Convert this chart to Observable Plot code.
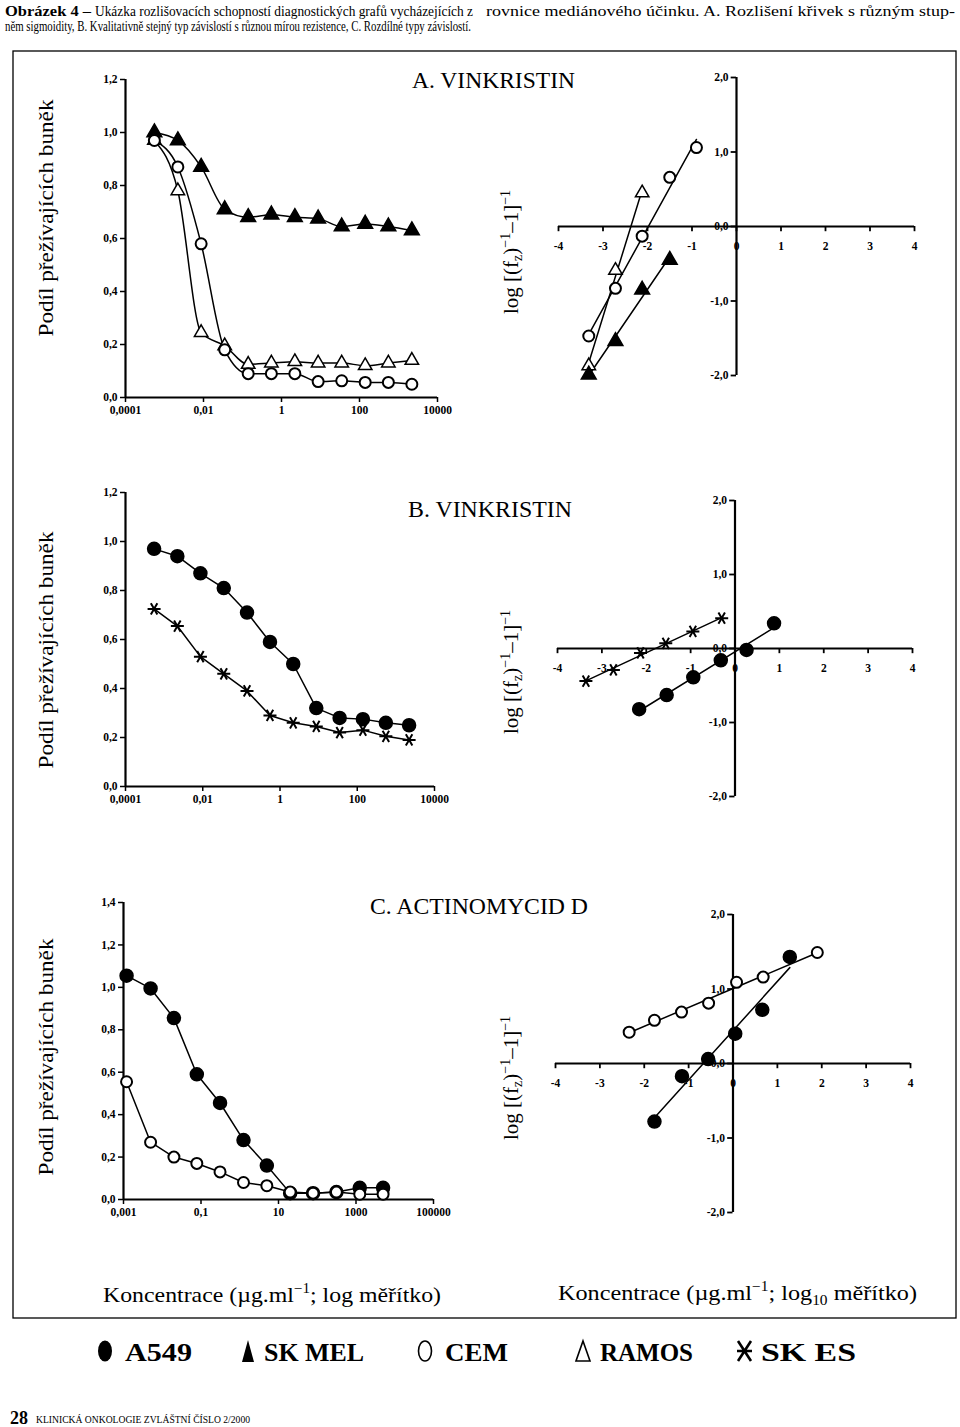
<!DOCTYPE html>
<html><head><meta charset="utf-8">
<script src="https://cdn.jsdelivr.net/npm/d3@7"></script>
<script src="https://cdn.jsdelivr.net/npm/@observablehq/plot@0.6"></script>
<style>
body{margin:0;background:#fff;}
#page{position:relative;width:960px;height:1427px;background:#fff;overflow:hidden;}
#page svg{position:absolute;}
</style></head><body><div id="page"></div>
<script>
// ---------------- DATA ----------------
// Dose-response (fraction of surviving cells) – vinkristin concentrations (µg/ml)
const concVink = [0.00055, 0.0022, 0.0087, 0.035, 0.14, 0.55, 2.2, 8.7, 35, 140, 550, 2200];
const aSkMel = [1.0, 0.97, 0.87, 0.71, 0.68, 0.69, 0.68, 0.675, 0.645, 0.655, 0.645, 0.63];
const aRamos = [0.97, 0.78, 0.245, 0.195, 0.125, 0.13, 0.135, 0.13, 0.13, 0.12, 0.13, 0.14];
const aCem   = [0.97, 0.87, 0.58, 0.18, 0.09, 0.09, 0.09, 0.06, 0.063, 0.057, 0.057, 0.05];
const bA549  = [0.97, 0.94, 0.87, 0.81, 0.71, 0.59, 0.50, 0.32, 0.28, 0.275, 0.26, 0.25];
const bSkEs  = [0.725, 0.655, 0.53, 0.46, 0.39, 0.29, 0.26, 0.245, 0.22, 0.23, 0.205, 0.19];
// actinomycin D concentrations (µg/ml)
const concAct = [0.0012, 0.005, 0.02, 0.078, 0.31, 1.25, 5, 20, 78, 312, 1250, 5000];
const cA549  = [1.055, 0.995, 0.855, 0.59, 0.455, 0.28, 0.16, 0.03, 0.03, 0.035, 0.055, 0.055];
const cCem   = [0.555, 0.27, 0.2, 0.17, 0.13, 0.08, 0.065, 0.035, 0.03, 0.035, 0.025, 0.025];

// Median-effect plots: x = log10 concentration, y = log[(fz)^-1 - 1]^-1
const meA_x      = [-3.32, -2.72, -2.12, -1.5, -0.9];
const meA_cem    = [-1.47, -0.83, -0.13, 0.66, 1.06];
const meA_ramos  = [-1.87, -0.59, 0.45];
const meA_skmel  = [-1.99, -1.54, -0.85, -0.45];
const meB_skes_x = [-3.36, -2.74, -2.13, -1.56, -0.95, -0.30];
const meB_skes   = [-0.44, -0.29, -0.06, 0.07, 0.23, 0.41];
const meB_a549_x = [-2.16, -1.54, -0.94, -0.32, 0.26, 0.88];
const meB_a549   = [-0.82, -0.63, -0.39, -0.16, -0.02, 0.34];
const meC_cem_x  = [-2.34, -1.77, -1.16, -0.55, 0.08, 0.68, 1.90];
const meC_cem    = [0.42, 0.58, 0.69, 0.81, 1.09, 1.16, 1.49];
const meC_a549_x = [-1.77, -1.15, -0.56, 0.05, 0.66, 1.28];
const meC_a549   = [-0.78, -0.17, 0.06, 0.40, 0.72, 1.43];

// Ticks and tick labels
const vinkTicksX = [1e-4, 1e-2, 1, 1e2, 1e4];
const vinkLabelsX = ["0,0001", "0,01", "1", "100", "10000"];
const actTicksX = [1e-3, 1e-1, 10, 1e3, 1e5];
const actLabelsX = ["0,001", "0,1", "10", "1000", "100000"];
const ticksY12 = [0, 0.2, 0.4, 0.6, 0.8, 1.0, 1.2];
const labelsY12 = ["0,0", "0,2", "0,4", "0,6", "0,8", "1,0", "1,2"];
const ticksY14 = [0, 0.2, 0.4, 0.6, 0.8, 1.0, 1.2, 1.4];
const labelsY14 = ["0,0", "0,2", "0,4", "0,6", "0,8", "1,0", "1,2", "1,4"];
const meTicksX = [-4, -3, -2, -1, 0, 1, 2, 3, 4];
const meLabelsX = ["-4", "-3", "-2", "-1", "0", "1", "2", "3", "4"];
const meTicksY = [-2, -1, 0, 1, 2];
const meLabelsY = ["-2,0", "-1,0", "0,0", "1,0", "2,0"];

const legendNames = ["A549", "SK MEL", "CEM", "RAMOS", "SK ES"];

// ---------------- STYLES ----------------
const asterisk = {
  draw(ctx, size) {
    const r = Math.sqrt(size / Math.PI);
    for (const a of [0, Math.PI / 3, 2 * Math.PI / 3]) {
      const c = Math.cos(a) * r, s = Math.sin(a) * r;
      ctx.moveTo(c, s); ctx.lineTo(-c, -s);
    }
  }
};
const STY = {
  A549:  {symbol: "circle", fill: "black", stroke: "black", r: 6.5},
  SKMEL: {symbol: "triangle", fill: "black", stroke: "black", r: 5.5},
  CEM:   {symbol: "circle", fill: "white", stroke: "black", strokeWidth: 2, r: 5.5},
  RAMOS: {symbol: "triangle", fill: "white", stroke: "black", strokeWidth: 1.5, r: 5},
  SKES:  {symbol: asterisk, fill: "none", stroke: "black", strokeWidth: 2, r: 6.5}
};
const zip = (xs, ys) => xs.map((x, i) => ({x, y: ys[i]}));
const page = document.getElementById("page");
const plotStyle = {fontFamily: "'Liberation Serif', 'Times New Roman', serif", fontSize: "12px", fontWeight: "bold", background: "transparent", overflow: "visible"};
const TICKFONT = 11.5;

function place(svg, left, top) {
  svg.style.left = left + "px"; svg.style.top = top + "px";
  page.appendChild(svg);
}

function doseChart(o) {
  const marks = [
    Plot.axisX(o.xTicks, {tickFormat: d => o.xLabels[o.xTicks.indexOf(d)], tickSize: 5, tickPadding: 3, strokeWidth: 1.5, fontSize: TICKFONT, fontWeight: "bold", label: null}),
    Plot.axisY(o.yTicks, {tickFormat: d => o.yLabels[o.yTicks.indexOf(d)], tickSize: 5, tickPadding: 3, strokeWidth: 1.5, fontSize: TICKFONT, fontWeight: "bold", label: null}),
    Plot.ruleY([0], {strokeWidth: 2.2}),
    Plot.ruleX([o.xDomain[0]], {strokeWidth: 2.2})
  ];
  for (const s of o.series) marks.push(Plot.line(zip(o.conc, s.values), {x: "x", y: "y", stroke: "black", strokeWidth: 1.5, curve: o.curve}));
  for (const s of o.series) marks.push(Plot.dot(zip(o.conc, s.values), {x: "x", y: "y", ...s.style}));
  const svg = Plot.plot({
    width: o.width, height: o.height,
    marginLeft: o.mL, marginRight: o.mR, marginTop: o.mT, marginBottom: o.mB,
    style: plotStyle,
    x: {type: "log", domain: o.xDomain},
    y: {domain: o.yDomain},
    marks
  });
  place(svg, o.left, o.top);
}

function medianChart(o) {
  const marks = [
    Plot.ruleY([0], {x1: -4, x2: 4, strokeWidth: 2.2}),
    Plot.ruleX([0], {y1: -2, y2: 2, strokeWidth: 2.2}),
    Plot.ruleX(meTicksX, {x: d => d, y1: 0, y2: -0.07, strokeWidth: 1.8}),
    Plot.ruleY(meTicksY, {y: d => d, x1: 0, x2: -0.12, strokeWidth: 1.8}),
    Plot.text(meTicksX, {x: d => d, y: 0, dy: 20, fontSize: TICKFONT, fontWeight: "bold", text: d => meLabelsX[meTicksX.indexOf(d)]}),
    Plot.text(meTicksY, {x: 0, y: d => d, dx: -8, textAnchor: "end", fontSize: TICKFONT, fontWeight: "bold", text: d => meLabelsY[meTicksY.indexOf(d)]})
  ];
  for (const s of o.series) marks.push(Plot.linearRegressionY(zip(s.x, s.y), {x: "x", y: "y", ci: 0, stroke: "black", strokeWidth: 1.5}));
  for (const s of o.series) marks.push(Plot.dot(zip(s.x, s.y), {x: "x", y: "y", ...s.style}));
  const svg = Plot.plot({
    width: 420, height: o.height,
    marginLeft: o.mL, marginRight: o.mR, marginTop: 25, marginBottom: 30,
    style: plotStyle,
    x: {domain: [-4, 4], axis: null},
    y: {domain: [-2, 2], axis: null},
    marks
  });
  place(svg, 530, o.top);
}

// ---------------- CHARTS ----------------
doseChart({left: 0, top: 54, width: 460, height: 373, mL: 125, mR: 23, mT: 25, mB: 30,
  conc: concVink, xDomain: [1e-4, 1e4], xTicks: vinkTicksX, xLabels: vinkLabelsX,
  yDomain: [0, 1.2], yTicks: ticksY12, yLabels: labelsY12, curve: "monotone-x",
  series: [{values: aSkMel, style: STY.SKMEL}, {values: aRamos, style: STY.RAMOS}, {values: aCem, style: STY.CEM}]});
doseChart({left: 0, top: 467, width: 460, height: 349, mL: 125, mR: 26, mT: 25, mB: 30,
  conc: concVink, xDomain: [1e-4, 1e4], xTicks: vinkTicksX, xLabels: vinkLabelsX,
  yDomain: [0, 1.2], yTicks: ticksY12, yLabels: labelsY12, curve: "linear",
  series: [{values: bA549, style: STY.A549}, {values: bSkEs, style: STY.SKES}]});
doseChart({left: 0, top: 877, width: 460, height: 352, mL: 123, mR: 27, mT: 25, mB: 30,
  conc: concAct, xDomain: [1e-3, 1e5], xTicks: actTicksX, xLabels: actLabelsX,
  yDomain: [0, 1.4], yTicks: ticksY14, yLabels: labelsY14, curve: "linear",
  series: [{values: cA549, style: STY.A549}, {values: cCem, style: STY.CEM}]});

medianChart({top: 52, height: 353, mL: 28, mR: 36, series: [
  {x: meA_x, y: meA_cem, style: STY.CEM},
  {x: meA_x.slice(0, meA_ramos.length), y: meA_ramos, style: STY.RAMOS},
  {x: meA_x.slice(0, meA_skmel.length), y: meA_skmel, style: STY.SKMEL}]});
medianChart({top: 475, height: 351, mL: 27, mR: 38, series: [
  {x: meB_skes_x, y: meB_skes, style: STY.SKES},
  {x: meB_a549_x, y: meB_a549, style: STY.A549}]});
medianChart({top: 889, height: 353, mL: 25, mR: 40, series: [
  {x: meC_cem_x, y: meC_cem, style: STY.CEM},
  {x: meC_a549_x, y: meC_a549, style: STY.A549}]});

// ---------------- TEXT OVERLAY ----------------
const SERIF = "'Liberation Serif', 'Times New Roman', serif";
const ov = d3.select(page).append("svg").attr("width", 960).attr("height", 1427)
  .style("left", "0px").style("top", "0px").style("pointer-events", "none")
  .attr("font-family", SERIF).attr("fill", "black");

function txt(x, y, s, {size = 14, weight = "normal", len = null, anchor = "start", adj = "spacingAndGlyphs", rotate = null} = {}) {
  const t = ov.append("text").attr("x", x).attr("y", y).attr("font-size", size)
    .attr("font-weight", weight).attr("text-anchor", anchor).text(s);
  if (len) t.attr("textLength", len).attr("lengthAdjust", adj);
  if (rotate !== null) t.attr("transform", `rotate(${rotate},${x},${y})`);
  return t;
}

// border
ov.append("rect").attr("x", 13).attr("y", 51).attr("width", 943).attr("height", 1267)
  .attr("fill", "none").attr("stroke", "black").attr("stroke-width", 1.3);

// header caption
txt(5, 16, "Obrázek 4 –", {size: 15, weight: "bold", len: 86});
txt(95, 16, "Ukázka rozlišovacích schopností diagnostických grafů vycházejících z", {size: 15, len: 378});
txt(486, 16, "rovnice mediánového účinku. A. Rozlišení křivek s  různým stup-", {size: 14.5, len: 469});
txt(5, 31, "něm sigmoidity, B. Kvalitativně stejný typ závislostí s  různou mírou rezistence, C. Rozdílné typy závislostí.", {size: 14, len: 466});

// panel titles
txt(412, 88, "A. VINKRISTIN", {size: 24, len: 163});
txt(408, 517, "B. VINKRISTIN", {size: 24, len: 164});
txt(370, 914, "C. ACTINOMYCID D", {size: 24, len: 218});

// left y-axis labels
for (const cy of [218, 650, 1057]) {
  ov.append("text").attr("transform", `translate(53,${cy}) rotate(-90)`)
    .attr("text-anchor", "middle").attr("font-size", 21)
    .attr("textLength", 237).attr("lengthAdjust", "spacingAndGlyphs")
    .text("Podíl přežívajících buněk");
}
// right y-axis labels
for (const cy of [252, 672, 1078]) {
  const t = ov.append("text").attr("transform", `translate(518,${cy}) rotate(-90)`)
    .attr("text-anchor", "middle").attr("font-size", 21);
  t.append("tspan").text("log [(f");
  t.append("tspan").attr("font-size", 14).attr("baseline-shift", "-4").text("z");
  t.append("tspan").text(")");
  t.append("tspan").attr("font-size", 14).attr("baseline-shift", "8").text("−1");
  t.append("tspan").text("–1]");
  t.append("tspan").attr("font-size", 14).attr("baseline-shift", "8").text("−1");
}
// bottom x-axis labels
{
  const t = ov.append("text").attr("x", 103).attr("y", 1302).attr("font-size", 22)
    .attr("textLength", 338).attr("lengthAdjust", "spacingAndGlyphs");
  t.append("tspan").text("Koncentrace (µg.ml");
  t.append("tspan").attr("font-size", 14).attr("baseline-shift", "9").text("−1");
  t.append("tspan").text("; log měřítko)");
  const u = ov.append("text").attr("x", 558).attr("y", 1300).attr("font-size", 22)
    .attr("textLength", 359).attr("lengthAdjust", "spacingAndGlyphs");
  u.append("tspan").text("Koncentrace (µg.ml");
  u.append("tspan").attr("font-size", 14).attr("baseline-shift", "9").text("−1");
  u.append("tspan").text("; log");
  u.append("tspan").attr("font-size", 14).attr("baseline-shift", "-5").text("10");
  u.append("tspan").text(" měřítko)");
}

// legend
ov.append("ellipse").attr("cx", 105).attr("cy", 1351).attr("rx", 7).attr("ry", 10.5).attr("fill", "black");
ov.append("path").attr("d", "M248,1340L254,1362L242,1362Z").attr("fill", "black");
ov.append("ellipse").attr("cx", 425).attr("cy", 1351).attr("rx", 6.5).attr("ry", 10).attr("fill", "none").attr("stroke", "black").attr("stroke-width", 1.6);
ov.append("path").attr("d", "M583,1341L590,1361L576,1361Z").attr("fill", "none").attr("stroke", "black").attr("stroke-width", 1.6);
ov.append("path").attr("d", "M738,1341L751,1361M751,1341L738,1361M737,1351L752,1351").attr("fill", "none").attr("stroke", "black").attr("stroke-width", 2.6);
const legX = [125, 264, 445, 600, 761], legLen = [67, 100, 63, 93, 95];
legendNames.forEach((n, i) => txt(legX[i], 1361, n, {size: 26, weight: "bold", len: legLen[i]}));

// footer
txt(10, 1424, "28", {size: 18, weight: "bold", len: 18});
txt(36, 1423, "KLINICKÁ ONKOLOGIE  ZVLÁŠTNÍ ČÍSLO  2/2000", {size: 10, len: 214});
</script></body></html>
